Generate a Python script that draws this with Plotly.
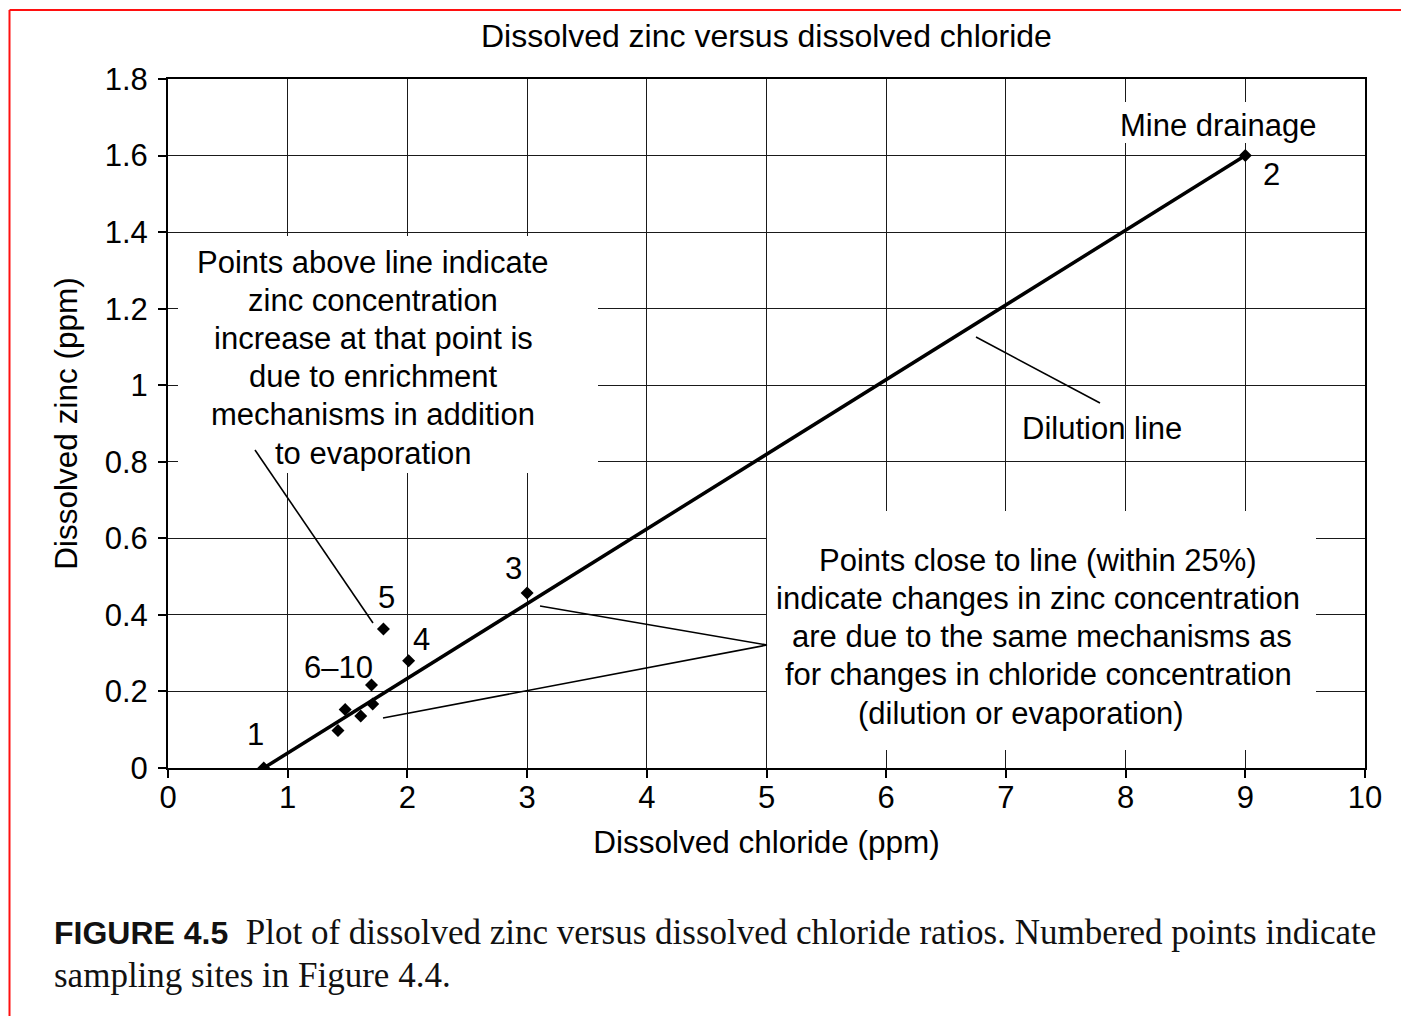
import plotly.graph_objects as go

# Sampling sites: dissolved chloride and dissolved zinc (ppm)
site_labels = ["1", "2", "3", "4", "5", "6", "7", "8", "9", "10"]
chloride_ppm = [0.80, 9.00, 3.00, 2.01, 1.80, 1.70, 1.71, 1.48, 1.61, 1.42]
zinc_ppm = [0.000, 1.600, 0.457, 0.280, 0.363, 0.217, 0.167, 0.153, 0.136, 0.098]

# Dilution line from the background site to the mine drainage
dilution_chloride = [0.80, 9.00]
dilution_zinc = [0.00, 1.60]

x_ticks = [0, 1, 2, 3, 4, 5, 6, 7, 8, 9, 10]
y_ticks = [0, 0.2, 0.4, 0.6, 0.8, 1.0, 1.2, 1.4, 1.6, 1.8]

above_note = ["Points above line indicate", "zinc concentration",
              "increase at that point is", "due to enrichment",
              "mechanisms in addition", "to evaporation"]
close_note = ["Points close to line (within 25%)",
              "indicate changes in zinc concentration",
              "are due to the same mechanisms as",
              "for changes in chloride concentration",
              "(dilution or evaporation)"]

W, H = 1401, 1016
ML, MR, MT, MB = 168, 36, 79, 248
SANS = "Liberation Sans, Arial, Helvetica, sans-serif"
SERIF = "Liberation Serif, Times New Roman, serif"
FS = 31


def px_x(px):
    return (px - ML) / (W - ML - MR)


def px_y(py):
    return (H - MB - py) / (H - MT - MB)


def dx(px):
    return 10 * px_x(px)


def dy(py):
    return 1.8 * px_y(py)


fig = go.Figure()

fig.add_trace(go.Scatter(
    x=dilution_chloride, y=dilution_zinc, mode="lines",
    line=dict(color="black", width=3.5), hoverinfo="skip", showlegend=False,
))
fig.add_trace(go.Scatter(
    x=chloride_ppm, y=zinc_ppm, mode="markers", text=site_labels,
    marker=dict(symbol="diamond", size=10, color="black"),
    showlegend=False,
))

shapes = []
# white panels behind the explanatory text (hide the grid there)
for x0, x1, y0, y1 in [(178, 598, 236, 473),
                       (767, 1316, 511, 750),
                       (1108, 1330, 102, 143)]:
    shapes.append(dict(type="rect", xref="x", yref="y",
                       x0=dx(x0), x1=dx(x1), y0=dy(y1), y1=dy(y0),
                       fillcolor="white", line=dict(width=0), layer="between"))

# callout leader lines
leaders = [
    ((255, 450), (373, 623)),
    ((976, 337), (1100, 403)),
    ((540, 606), (767, 645)),
    ((383, 718), (767, 645)),
]
for (xa, ya), (xb, yb) in leaders:
    shapes.append(dict(type="line", xref="x", yref="y",
                       x0=dx(xa), y0=dy(ya), x1=dx(xb), y1=dy(yb),
                       line=dict(color="black", width=1.6), layer="above"))

# page frame lines (top and left)
red = "#ff1010"
shapes.append(dict(type="line", xref="paper", yref="paper",
                   x0=px_x(9.5), x1=px_x(1401), y0=px_y(10), y1=px_y(10),
                   line=dict(color=red, width=2)))
shapes.append(dict(type="line", xref="paper", yref="paper",
                   x0=px_x(9.5), x1=px_x(9.5), y0=px_y(10), y1=px_y(1016),
                   line=dict(color=red, width=2)))

annotations = []


def label(px, py, text, size=FS):
    annotations.append(dict(x=dx(px), y=dy(py), xref="x", yref="y", text=text,
                            showarrow=False, xanchor="center", yanchor="middle",
                            font=dict(family=SANS, size=size, color="black")))


# site number labels
label(255, 734, "1")
label(1271, 174, "2")
label(513, 568, "3")
label(421, 639, "4")
label(386, 597, "5")
label(338, 667, "6\u201310")
label(1218, 125, "Mine drainage")
label(1102, 428, "Dilution line")

# explanatory notes, one annotation per line
for i, line in enumerate(above_note):
    label(373, 262 + 38.2 * i, line)
close_cx = [1038, 1038, 1042, 1038, 1021]
for i, line in enumerate(close_note):
    label(close_cx[i], 560 + 38.3 * i, line)

# chart title
annotations.append(dict(x=px_x(766), y=px_y(36), xref="paper", yref="paper",
                        text="Dissolved zinc versus dissolved chloride", showarrow=False,
                        xanchor="center", yanchor="middle",
                        font=dict(family=SANS, size=32, color="black")))

# figure caption
cap_font = dict(family=SERIF, size=35, color="#111111")
annotations.append(dict(
    x=px_x(52), y=px_y(932), xref="paper", yref="paper", xanchor="left", yanchor="middle",
    showarrow=False, font=cap_font,
    text="<span style='font-family:Liberation Sans, Arial, sans-serif;font-weight:bold;"
         "font-size:32px'>FIGURE 4.5</span>  Plot of dissolved zinc versus dissolved "
         "chloride ratios. Numbered points indicate"))
annotations.append(dict(
    x=px_x(52), y=px_y(975), xref="paper", yref="paper", xanchor="left", yanchor="middle",
    showarrow=False, font=cap_font, text="sampling sites in Figure 4.4."))

axis_common = dict(
    showgrid=True, gridcolor="#1a1a1a", gridwidth=1.2,
    showline=True, linecolor="black", linewidth=2, mirror=True,
    ticks="outside", ticklen=8, tickwidth=1.5, tickcolor="black",
    zeroline=False, tickfont=dict(family=SANS, size=FS, color="black"),
)

fig.update_layout(
    width=W, height=H,
    margin=dict(l=ML, r=MR, t=MT, b=MB, autoexpand=False),
    paper_bgcolor="white", plot_bgcolor="white",
    xaxis=dict(range=[0, 10], tickvals=x_ticks, ticklabelstandoff=-7, **axis_common,
               title=dict(text="Dissolved chloride (ppm)", standoff=17,
                          font=dict(family=SANS, size=31.5, color="black"))),
    yaxis=dict(range=[0, 1.8], tickvals=y_ticks, ticklabelstandoff=4, **axis_common,
               title=dict(text="Dissolved zinc (ppm)", standoff=18,
                          font=dict(family=SANS, size=31.5, color="black"))),
    shapes=shapes, annotations=annotations,
)

fig.write_html("out.html")
